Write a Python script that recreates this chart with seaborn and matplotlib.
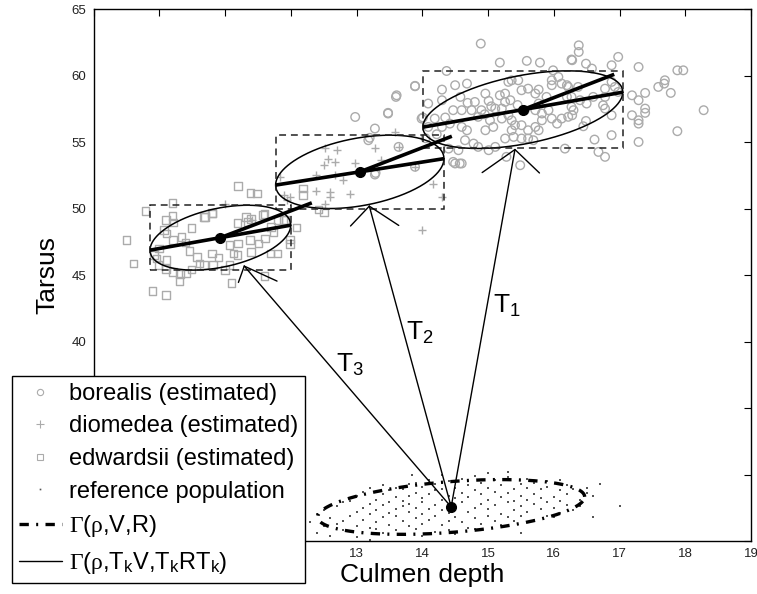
import numpy as np
import matplotlib
matplotlib.use("Agg")
import matplotlib.pyplot as plt
import seaborn as sns
from matplotlib.lines import Line2D
from matplotlib.patches import Rectangle

# ---------------- data ----------------
bor_x = [14.89, 15.18, 15.59, 15.79, 16.27, 14.37, 13.89, 14.30, 14.50, 14.68, 14.09, 14.30, 14.58, 14.69, 14.80,
         14.96, 15.01, 14.90, 14.75, 14.60, 14.47, 14.35, 14.19, 13.99, 14.09, 14.30, 14.42, 14.60, 14.68, 14.65,
         14.78, 14.96, 15.08, 15.21, 15.31, 15.21, 15.26, 15.34, 15.26, 15.18, 15.36, 15.46, 15.31, 15.51, 15.61,
         15.72, 15.77, 15.97, 16.07, 16.12, 16.20, 15.97, 15.89, 15.77, 15.82, 15.92, 15.97, 16.12, 16.22, 15.82,
         15.72, 15.77, 15.61, 15.51, 15.41, 15.36, 15.51, 15.61, 15.69, 15.39, 15.26, 15.11, 15.01, 14.85, 14.55,
         14.47, 14.60, 13.61, 15.49, 16.17, 15.99, 16.22, 16.27, 16.20, 14.85, 15.03, 15.11, 15.36, 15.56, 15.72,
         16.38, 16.38, 16.28, 16.49, 16.58, 16.98, 16.88, 17.29, 16.37, 16.27, 16.40, 16.50, 16.60, 16.78, 16.88,
         16.78, 16.98, 16.93, 17.19, 17.29, 17.39, 17.39, 17.39, 17.19, 17.29, 17.29, 16.88, 16.78, 16.75, 16.28,
         16.30, 16.49, 16.88, 17.29, 16.68, 16.78, 17.59, 17.69, 17.68, 17.78, 17.88, 17.97, 18.28, 17.88,
         13.89, 13.60, 13.48, 14.01, 14.40, 14.50, 14.57, 15.28, 13.28, 13.20, 13.28, 13.64, 13.89, 12.98, 13.48,
         13.18, 13.29, 14.22, 14.05, 14.95, 15.45, 15.05, 16.05, 16.45, 16.62]
bor_y = [62.42, 60.99, 61.12, 60.99, 61.22, 60.36, 59.21, 58.96, 59.29, 59.41, 57.91, 58.16, 58.41, 57.96, 58.03,
         58.66, 58.11, 57.41, 57.41, 57.41, 57.41, 56.86, 56.78, 56.78, 56.15, 56.15, 56.40, 56.15, 55.90, 55.15,
         54.90, 55.90, 56.15, 56.78, 57.03, 57.53, 58.03, 58.16, 58.66, 58.53, 59.66, 59.66, 59.54, 58.91, 59.03,
         58.66, 58.96, 59.66, 59.91, 59.41, 59.29, 59.29, 58.41, 57.91, 57.16, 57.41, 56.78, 56.78, 56.91, 56.65,
         56.15, 55.90, 55.90, 56.28, 56.28, 55.90, 55.28, 55.28, 55.15, 55.40, 55.28, 54.65, 54.40, 54.65, 54.40,
         53.52, 53.40, 58.53, 53.27, 54.52, 60.41, 59.16, 57.66, 58.41, 56.91, 56.65, 57.53, 56.65, 57.41, 57.41,
         62.29, 61.79, 61.17, 60.91, 60.54, 61.42, 60.79, 60.66, 59.16, 58.41, 58.16, 57.91, 58.41, 59.03, 59.54,
         58.41, 58.78, 59.16, 58.53, 58.16, 58.71, 57.53, 57.21, 57.03, 56.65, 56.40, 57.03, 57.53, 57.78, 57.03,
         57.41, 56.60, 55.53, 55.02, 54.27, 53.90, 59.16, 59.66, 59.41, 58.71, 60.41, 60.41, 57.41, 55.83,
         59.24, 58.41, 57.21, 56.86, 54.52, 53.40, 53.40, 53.90, 56.03, 55.33, 52.57, 54.65, 53.15, 56.90, 57.16,
         55.15, 52.69, 55.60, 55.30, 57.10, 57.80, 57.70, 56.40, 56.20, 55.20]

dio_x = [12.52, 12.70, 12.57, 12.67, 12.50, 12.98, 12.39, 12.68, 12.80, 12.60, 12.39, 12.60, 12.90, 12.52,
         13.28, 13.38, 14.17, 14.30, 13.99, 11.84, 11.89, 13.59, 13.64, 13.89, 11.41, 11.95, 11.00, 11.99]
dio_y = [54.57, 54.40, 53.77, 53.52, 53.32, 53.47, 52.57, 52.57, 52.14, 51.27, 51.32, 50.89, 51.07, 50.39,
         54.57, 53.65, 51.89, 50.89, 48.38, 52.39, 51.02, 55.78, 54.65, 53.15, 49.14, 50.69, 50.39, 50.89]

edw_x = [11.20, 11.39, 11.49, 9.79, 10.20, 10.10, 10.20, 10.21, 10.49, 10.68, 10.81, 11.19, 11.34, 11.58, 11.89,
         12.09, 11.99, 11.99, 9.50, 9.61, 9.90, 10.10, 10.31, 10.41, 10.49, 11.10, 11.19, 11.60, 11.69, 11.80,
         10.90, 10.80, 10.61, 10.57, 10.46, 10.40, 10.34, 10.21, 10.11, 10.07, 10.00, 9.92, 9.96, 10.11, 10.21,
         10.32, 10.10, 9.99, 10.68, 10.82, 11.00, 11.07, 11.07, 11.20, 11.38, 11.40, 11.51, 11.61, 11.74, 11.70,
         11.40, 11.32, 11.13, 10.80, 10.70, 11.60, 11.81, 12.19, 12.19, 12.42, 12.51, 11.92]
edw_y = [51.72, 51.19, 51.14, 49.81, 50.44, 49.14, 49.44, 48.96, 48.56, 49.39, 49.64, 48.93, 49.01, 49.51, 49.14,
         48.58, 47.68, 47.33, 47.63, 45.88, 43.80, 43.50, 44.57, 45.13, 45.43, 44.42, 46.50, 44.92, 46.63, 46.63,
         46.33, 46.63, 45.88, 46.38, 46.83, 47.46, 47.88, 47.63, 48.13, 48.38, 47.00, 46.50, 46.25, 46.13, 45.25,
         45.08, 45.45, 45.75, 45.75, 45.75, 45.38, 45.75, 47.25, 47.38, 47.63, 46.75, 47.38, 47.76, 48.26, 48.63,
         49.21, 49.39, 46.63, 49.68, 49.38, 49.59, 49.14, 51.52, 51.02, 49.94, 49.71, 49.14]

ref_x = [12.3, 12.4, 12.4, 12.5, 12.5, 12.6, 12.6, 12.7, 12.7, 12.8, 12.8, 12.8, 12.9, 12.9,
         13.0, 13.0, 13.0, 13.0, 13.1, 13.1, 13.1, 13.2, 13.2, 13.2, 13.2, 13.3, 13.3, 13.3, 13.3,
         13.4, 13.4, 13.4, 13.4, 13.4, 13.5, 13.5, 13.5, 13.5, 13.6, 13.6, 13.6, 13.6, 13.6,
         13.7, 13.7, 13.7, 13.7, 13.7, 13.8, 13.8, 13.8, 13.8, 13.8, 13.9, 13.9, 13.9, 13.9, 13.9,
         14.0, 14.0, 14.0, 14.0, 14.0, 14.0, 14.1, 14.1, 14.1, 14.1, 14.2, 14.2, 14.2, 14.2, 14.2,
         14.3, 14.3, 14.3, 14.3, 14.3, 14.4, 14.4, 14.4, 14.4, 14.4, 14.5, 14.5, 14.5, 14.5, 14.5,
         14.6, 14.6, 14.6, 14.6, 14.7, 14.7, 14.7, 14.7, 14.8, 14.8, 14.8, 14.8, 14.8,
         14.9, 14.9, 14.9, 14.9, 15.0, 15.0, 15.0, 15.0, 15.0, 15.1, 15.1, 15.1, 15.1,
         15.2, 15.2, 15.2, 15.2, 15.3, 15.3, 15.3, 15.3, 15.3, 15.4, 15.4, 15.4, 15.4,
         15.5, 15.5, 15.5, 15.5, 15.5, 15.6, 15.6, 15.6, 15.6, 15.7, 15.7, 15.7, 15.7,
         15.8, 15.8, 15.8, 15.9, 15.9, 15.9, 15.9, 16.0, 16.0, 16.0, 16.1, 16.1, 16.1, 16.1,
         16.2, 16.2, 16.2, 16.3, 16.3, 16.4, 16.4, 16.5, 16.5, 16.6, 16.6, 16.7, 17.0, 13.84, 13.2]
ref_y = [26.4, 27.0, 25.6, 26.1, 27.3, 26.7, 25.4, 27.6, 26.3, 27.9, 26.5, 25.8, 26.9, 28.0,
         25.3, 26.1, 27.2, 28.4, 27.5, 26.6, 28.7, 26.0, 27.0, 27.8, 29.0, 26.4, 27.3, 28.1, 25.9,
         27.7, 26.8, 28.5, 25.6, 29.2, 26.2, 27.1, 27.9, 28.8, 25.8, 26.9, 27.4, 28.3, 29.0,
         26.5, 27.6, 28.0, 28.9, 25.5, 26.1, 27.2, 27.8, 28.4, 29.3, 25.9, 26.7, 27.5, 28.6, 29.4,
         26.3, 27.0, 27.9, 28.2, 29.1, 25.4, 26.6, 27.4, 28.5, 29.6, 25.7, 26.9, 27.7, 28.8, 29.3,
         26.2, 27.3, 28.1, 28.9, 30.0, 25.8, 26.5, 27.1, 28.4, 29.5, 26.8, 27.6, 28.2, 29.0, 25.5,
         26.4, 27.9, 28.6, 29.7, 26.0, 27.2, 28.3, 29.2, 26.7, 27.5, 28.8, 29.9, 25.9,
         26.3, 27.8, 28.5, 29.4, 26.9, 27.4, 28.1, 29.0, 30.1, 26.5, 27.7, 28.7, 29.6,
         27.0, 28.3, 29.2, 26.2, 26.8, 27.9, 28.6, 29.8, 30.2, 27.3, 28.0, 28.9, 26.5,
         26.9, 27.6, 28.4, 29.3, 25.6, 27.2, 28.1, 29.0, 29.7, 26.6, 27.8, 28.5, 29.4,
         27.4, 28.2, 28.9, 26.9, 27.9, 29.1, 29.5, 27.5, 28.3, 26.8, 27.1, 28.0, 28.8, 29.6,
         27.7, 28.5, 29.2, 27.3, 28.9, 28.1, 27.6, 28.6, 29.0, 26.8, 28.4, 29.3, 27.6, 29.96, 25.1]

# estimated ellipses: centre, half extents, correlation  (borealis, diomedea, edwardsii)
ell_cx = [15.53, 13.05, 10.93]
ell_cy = [57.45, 52.77, 47.82]
ell_sx = [1.52, 1.28, 1.07]
ell_sy = [2.92, 2.76, 2.44]
ell_rho = [0.45, 0.36, 0.385]
axis_end_x = [16.92, 14.45, 12.32]
axis_end_y = [60.11, 55.45, 50.44]
arrow_tip_x = [15.41, 13.195, 11.293]
arrow_tip_y = [54.45, 50.19, 45.68]
arrow_names = ["1", "2", "3"]
label_x = [15.08, 13.75, 12.69]
label_y = [42.2, 40.11, 37.71]

# reference population ellipse
ref_cx, ref_cy, ref_sx, ref_sy, ref_rho = 14.44, 27.56, 2.03, 2.06, 0.37

x_ticks = [9, 10, 11, 12, 13, 14, 15, 16, 17, 18, 19]
x_ticklabels = ["", "", "", "", "13", "14", "15", "16", "17", "18", "19"]   # 9-12 hidden behind legend
y_ticks = [25, 30, 35, 40, 45, 50, 55, 60, 65]
y_ticklabels = ["", "", "", "40", "45", "50", "55", "60", "65"]             # 25-35 hidden behind legend

# ---------------- style ----------------
sns.set_style("white")
plt.rcParams["font.family"] = ["Liberation Sans", "DejaVu Sans"]
plt.rcParams["mathtext.fontset"] = "custom"
plt.rcParams["mathtext.rm"] = "Liberation Serif"
plt.rcParams["mathtext.it"] = "Liberation Serif:italic"
plt.rcParams["text.color"] = "black"
plt.rcParams["axes.labelcolor"] = "black"

GRAY = "#ababab"

fig = plt.figure(figsize=(7.57, 5.94), dpi=100)
ax = fig.add_axes([93.5 / 757, 53 / 594, (751 - 93.5) / 757, (541 - 9.3) / 594])

sns.scatterplot(x=ref_x, y=ref_y, marker="s", s=1.3, color="#555555", linewidth=0, ax=ax, zorder=2, legend=False)
sns.scatterplot(x=bor_x, y=bor_y, marker="o", s=38, facecolor="none", edgecolor=GRAY, linewidth=1.0,
                ax=ax, zorder=2, legend=False)
sns.scatterplot(x=dio_x, y=dio_y, marker="+", s=40, color=GRAY, linewidth=1.0, ax=ax, zorder=2, legend=False)
sns.scatterplot(x=edw_x, y=edw_y, marker="s", s=30, facecolor="none", edgecolor=GRAY, linewidth=1.0,
                ax=ax, zorder=2, legend=False)

t = np.linspace(0, 2 * np.pi, 400)

# reference ellipse
d = np.arccos(ref_rho)
ax.plot(ref_cx + ref_sx * np.cos(t), ref_cy + ref_sy * np.cos(t - d), color="k", lw=2.4,
        dashes=(2.8, 2.2, 0.6, 2.2), zorder=3)
ax.plot([ref_cx], [ref_cy], "o", color="k", ms=7, zorder=6)

for cx, cy, sx, sy, r, exx, exy in zip(ell_cx, ell_cy, ell_sx, ell_sy, ell_rho, axis_end_x, axis_end_y):
    d = np.arccos(r)
    ax.plot(cx + sx * np.cos(t), cy + sy * np.cos(t - d), color="k", lw=1.1, zorder=3)
    ax.add_patch(Rectangle((cx - sx, cy - sy), 2 * sx, 2 * sy, fill=False, ec="#222222", lw=1.1,
                           ls=(0, (4.5, 3.2)), zorder=3))
    ax.plot([cx - sx, cx + sx], [cy - r * sy, cy + r * sy], color="k", lw=2.6, solid_capstyle="butt", zorder=4)
    ax.plot([cx, exx], [cy, exy], color="k", lw=2.6, solid_capstyle="butt", zorder=4)
    ax.plot([cx], [cy], "o", color="k", ms=7, zorder=6)

# transformation arrows
for tx, ty, nm, lx, ly in zip(arrow_tip_x, arrow_tip_y, arrow_names, label_x, label_y):
    dx, dy = tx - ref_cx, ty - ref_cy
    L = np.hypot(dx, dy)
    back = np.arctan2(-dy, -dx)
    wl = 0.067 * L
    ax.plot([ref_cx, tx], [ref_cy, ty], color="k", lw=1.0, zorder=3)
    for s in (1, -1):
        a = back + s * np.deg2rad(14)
        ax.plot([tx, tx + wl * np.cos(a)], [ty, ty + wl * np.sin(a)], color="k", lw=1.0, zorder=3)
    ax.text(lx, ly, r"$\mathregular{T_%s}$" % nm, fontsize=19, ha="left", va="baseline", zorder=7)

ax.set_xlim(9, 19)
ax.set_ylim(25, 65)
ax.set_xticks(x_ticks)
ax.set_xticklabels(x_ticklabels)
ax.set_yticks(y_ticks)
ax.set_yticklabels(y_ticklabels)
ax.tick_params(direction="in", length=5, width=0.8, top=True, right=True, labelsize=9.5, pad=5,
               colors="black", labelcolor="#222222")
for sp in ax.spines.values():
    sp.set_visible(True)
    sp.set_color("black")
    sp.set_linewidth(1.0)
ax.set_xlabel("Culmen depth", fontsize=19, labelpad=2)
ax.set_ylabel("Tarsus", fontsize=19, labelpad=9)

handles = [
    Line2D([], [], ls="none", marker="o", ms=4.5, mfc="none", mec=GRAY, mew=0.8),
    Line2D([], [], ls="none", marker="+", ms=6, mec=GRAY, mew=0.8),
    Line2D([], [], ls="none", marker="s", ms=4, mfc="none", mec=GRAY, mew=0.8),
    Line2D([], [], ls="none", marker="s", ms=1.2, mfc="#555555", mec="#555555", mew=0),
    Line2D([], [], color="k", lw=2.4, dashes=(2.8, 2.2, 0.6, 2.2)),
    Line2D([], [], color="k", lw=1.0),
]
labels = ["borealis (estimated)", "diomedea (estimated)", "edwardsii (estimated)", "reference population",
          r"$\mathrm{\Gamma}$($\mathrm{\rho}$,V,R)",
          r"$\mathrm{\Gamma}$($\mathrm{\rho}$,$\mathregular{T_k}$V,$\mathregular{T_k}$R$\mathregular{T_k}$)"]
leg = fig.legend(handles, labels, loc="lower left", bbox_to_anchor=(12 / 757, 11 / 594),
                 bbox_transform=fig.transFigure, borderaxespad=0, fontsize=17, frameon=True,
                 fancybox=False, framealpha=1, edgecolor="black", handlelength=1.8, handletextpad=0.3,
                 labelspacing=0.45, borderpad=0.3)
leg.get_frame().set_linewidth(1.0)
leg.set_zorder(10)

fig.savefig("out.png", dpi=100)
